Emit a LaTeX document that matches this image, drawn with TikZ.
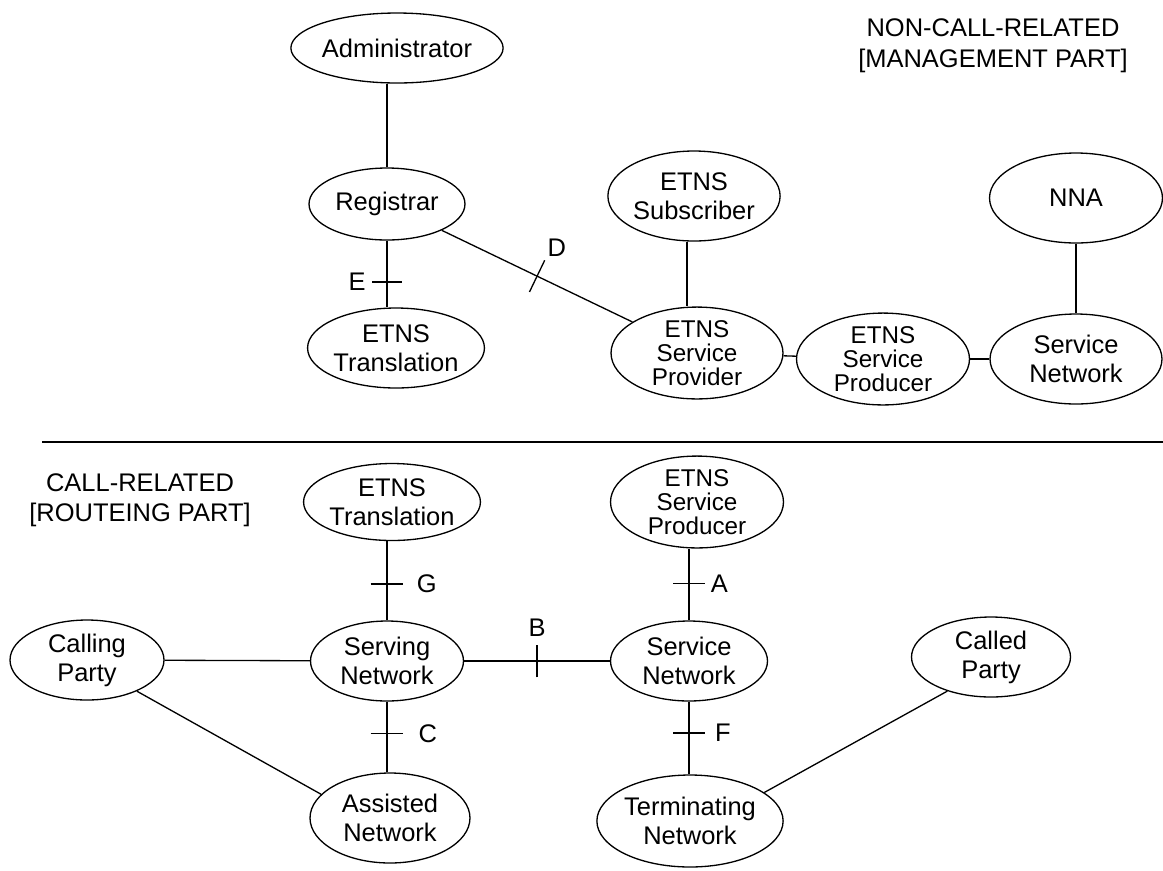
\documentclass[tikz,border=0pt]{standalone}
\usepackage{fontspec}
\setmainfont{Liberation Sans}
\usetikzlibrary{shapes.geometric, calc}

\begin{document}
\begin{tikzpicture}[x=0.02cm, y=-0.02cm, line width=0.75pt,
  ent/.style={ellipse, draw, align=center, inner sep=0pt, font=\fontsize{14.5}{16.5}\selectfont},
  smalltxt/.style={font=\fontsize{13.8}{13.6}\selectfont},
  lbl/.style={font=\fontsize{14.5}{16}\selectfont, inner sep=1pt}]
\useasboundingbox (0,0) rectangle (1163,870);

\node[ent, minimum width=4.12cm, minimum height=1.4cm] (adm) at (397,48) {Administrator};
\node[ent, minimum width=3.12cm, minimum height=1.44cm] (reg) at (387,204) {Registrar};
\node[ent, minimum width=3.44cm, minimum height=1.6cm] (trT) at (396,348) {ETNS\\Translation};
\node[ent, minimum width=3.34cm, minimum height=1.8cm] (sub) at (694,196) {ETNS\\Subscriber};
\node[ent, minimum width=3.46cm, minimum height=1.8cm] (nna) at (1076,198) {NNA};
\node[ent, smalltxt, minimum width=3.44cm, minimum height=1.74cm] (prov) at (697,353) {ETNS\\Service\\Provider};
\node[ent, smalltxt, minimum width=3.46cm, minimum height=1.8cm] (prodT) at (883,359) {ETNS\\Service\\Producer};
\node[ent, minimum width=3.44cm, minimum height=1.8cm] (svcT) at (1076,359) {Service\\Network};

\node[align=center, font=\fontsize{14.5}{17.6}\selectfont] (mgmt) at (993,46) {NON-CALL-RELATED\\{[}MANAGEMENT PART{]}};
\node[align=center, font=\fontsize{14.5}{17}\selectfont] (rout) at (140,500) {CALL-RELATED\\{[}ROUTEING PART{]}};

\draw (42,442) -- (1163,442);

\node[ent, minimum width=3.1cm, minimum height=1.54cm] (trB) at (392,502) {ETNS\\Translation};
\node[ent, minimum width=3.08cm, minimum height=1.6cm] (calling) at (87,660) {Calling\\Party};
\node[ent, minimum width=3.06cm, minimum height=1.6cm] (serv) at (387,661) {Serving\\Network};
\node[ent, minimum width=3.2cm, minimum height=1.8cm] (assist) at (390,818) {Assisted\\Network};
\node[ent, smalltxt, minimum width=3.46cm, minimum height=1.8cm] (prodB) at (697,502) {ETNS\\Service\\Producer};
\node[ent, minimum width=3.14cm, minimum height=1.6cm] (svcB) at (689,661) {Service\\Network};
\node[ent, minimum width=3.18cm, minimum height=1.6cm] (called) at (991,657) {Called\\Party};
\node[ent, minimum width=3.58cm, minimum height=1.84cm] (term) at (690,821) {Terminating\\Network};

\draw (reg.north) -- (reg.north |- adm.south);
\draw (reg.south) -- (reg.south |- trT.north) coordinate[pos=.62] (tE);
\draw (reg) -- (prov) coordinate[pos=.5] (tD);
\draw ([xshift=-4pt]sub.south) -- ([xshift=-4pt]sub.south |- prov.north);
\draw (prov) -- (prodT);
\draw (prodT) -- (svcT);
\draw (nna) -- (svcT);

\draw (calling) -- (serv);
\draw (serv.north |- trB.south) -- (serv.north) coordinate[pos=.54] (tG);
\draw (serv) -- (svcB) coordinate[pos=.5] (tB);
\draw (serv.south) -- (serv.south |- assist.north) coordinate[pos=.45] (tC);
\draw (calling.-32) -- (assist.161);
\draw (svcB.north |- prodB.south) -- (svcB.north) coordinate[pos=.49] (tA);
\draw (svcB.south) -- (svcB.south |- term.north) coordinate[pos=.43] (tF);
\draw (term.21.5) -- (called.218.6);

\draw ([xshift=-8.5pt]tE) -- ([xshift=8.5pt]tE);
\draw ($(tD)!10pt!90:(prov)$) -- ($(tD)!10pt!-90:(prov)$);
\draw ([xshift=-9.3pt]tG) -- ([xshift=9.3pt]tG);
\draw ([yshift=-9.3pt]tB) -- ([yshift=9.3pt]tB);
\draw ([xshift=-9.3pt]tC) -- ([xshift=9.3pt]tC);
\draw ([xshift=-9pt]tA) -- ([xshift=9pt]tA);
\draw ([xshift=-9pt]tF) -- ([xshift=9pt]tF);

\node[lbl] at ([xshift=-17pt]tE) {E};
\node[lbl] at ([xshift=11.3pt, yshift=16.4pt]tD) {D};
\node[lbl] at ([xshift=22.7pt]tG) {G};
\node[lbl] at ([yshift=18.7pt]tB) {B};
\node[lbl] at ([xshift=23.2pt]tC) {C};
\node[lbl] at ([xshift=17.3pt]tA) {A};
\node[lbl] at ([xshift=19.3pt]tF) {F};

\end{tikzpicture}
\end{document}
